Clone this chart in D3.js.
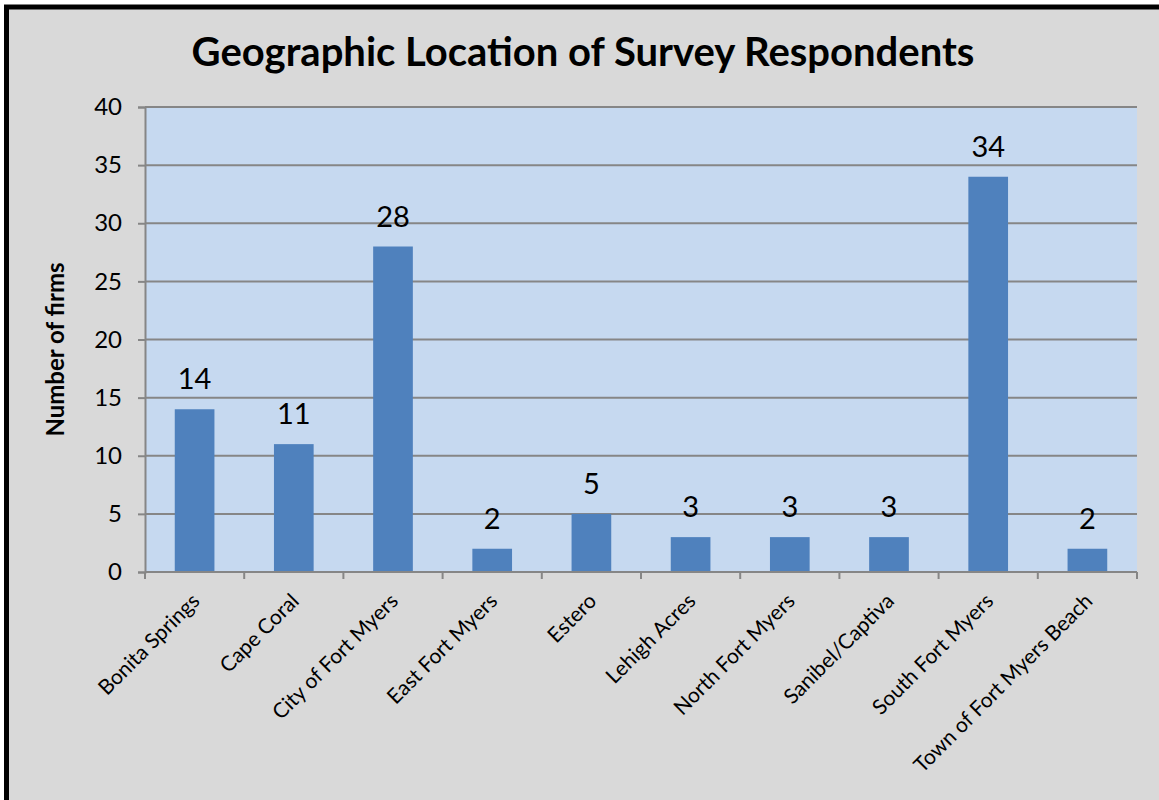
<!DOCTYPE html>
<html>
<head>
<meta charset="utf-8">
<script src="https://cdn.jsdelivr.net/npm/d3@7"></script>
<style>
  body { margin: 0; background: #fff; }
  text { font-family: Lato, "Open Sans", sans-serif; fill: #000; }
</style>
</head>
<body>
<div id="chart"></div>
<script>
//chart data
const locations = ['Bonita Springs', 'Cape Coral', 'City of Fort Myers', 'East Fort Myers', 'Estero',
    'Lehigh Acres', 'North Fort Myers', 'Sanibel/Captiva', 'South Fort Myers', 'Town of Fort Myers Beach'];
const firms = [14, 11, 28, 2, 5, 3, 3, 3, 34, 2];
const y_ticks = [0, 5, 10, 15, 20, 25, 30, 35, 40];

const width = 1159, height = 800;
const plot = {left: 145, right: 1137, top: 107, bottom: 572};

let svg = d3.select('#chart')
    .append('svg')
    .attr('width', width)
    .attr('height', height);

//outer frame, black on top and left
svg.append('rect')
    .attr('x', 6.5).attr('y', 7)
    .attr('width', width + 20).attr('height', height + 20)
    .attr('fill', '#d9d9d9')
    .attr('stroke', '#000')
    .attr('stroke-width', 5);

//scales
let x = d3.scaleBand()
    .domain(locations)
    .range([plot.left, plot.right])
    .paddingInner(0.6)
    .paddingOuter(0.3);

let y = d3.scaleLinear()
    .domain([0, 40])
    .range([plot.bottom, plot.top]);

//plot background
svg.append('rect')
    .attr('x', plot.left).attr('y', plot.top)
    .attr('width', plot.right - plot.left)
    .attr('height', plot.bottom - plot.top)
    .attr('fill', '#c6d9f0');

//gridlines
svg.append('g')
    .selectAll('line')
    .data(y_ticks.filter(d => d > 0))
    .enter().append('line')
    .attr('x1', plot.left).attr('x2', plot.right)
    .attr('y1', d => y(d)).attr('y2', d => y(d))
    .attr('stroke', '#868686')
    .attr('stroke-width', 2);

//y axis
let yAxis = svg.append('g')
    .attr('transform', `translate(${plot.left}, 0)`)
    .call(d3.axisLeft(y).tickValues(y_ticks).tickSize(7).tickPadding(16));
yAxis.attr('font-family', null).attr('font-size', null);
yAxis.select('.domain').attr('stroke', '#868686').attr('stroke-width', 2);
yAxis.selectAll('.tick line').attr('stroke', '#868686').attr('stroke-width', 2);
yAxis.selectAll('.tick text').style('font-size', '24px').attr('fill', '#000');

//bars
svg.append('g')
    .selectAll('rect')
    .data(firms)
    .enter().append('rect')
    .attr('x', (d, i) => x(locations[i]))
    .attr('y', d => y(d))
    .attr('width', x.bandwidth())
    .attr('height', d => y(0) - y(d))
    .attr('fill', '#4f81bd');

//x axis line and ticks at category boundaries
let step = x.step();
let boundaries = d3.range(locations.length + 1).map(i => plot.left + i * step);
svg.append('line')
    .attr('x1', plot.left).attr('x2', plot.right)
    .attr('y1', plot.bottom).attr('y2', plot.bottom)
    .attr('stroke', '#868686').attr('stroke-width', 2);
svg.append('g')
    .selectAll('line')
    .data(boundaries)
    .enter().append('line')
    .attr('x1', d => d).attr('x2', d => d)
    .attr('y1', plot.bottom).attr('y2', plot.bottom + 7)
    .attr('stroke', '#868686').attr('stroke-width', 2);

//category labels, rotated
svg.append('g')
    .selectAll('text')
    .data(locations)
    .enter().append('text')
    .attr('transform', d => `translate(${x(d) + x.bandwidth() / 2 - 4}, ${plot.bottom + 20}) rotate(-45)`)
    .attr('text-anchor', 'end')
    .attr('dy', '0.7em')
    .style('font-size', '21px')
    .text(d => d);

//data labels
svg.append('g')
    .selectAll('text')
    .data(firms)
    .enter().append('text')
    .attr('x', (d, i) => x(locations[i]) + x.bandwidth() / 2)
    .attr('y', d => y(d) - 20)
    .attr('text-anchor', 'middle')
    .style('font-size', '29px')
    .text(d => d);

//title
svg.append('text')
    .attr('x', 583).attr('y', 66)
    .attr('text-anchor', 'middle')
    .style('font-size', '40px')
    .style('font-weight', 'bold')
    .text('Geographic Location of Survey Respondents');

//y axis title
svg.append('text')
    .attr('transform', `translate(64, ${(plot.top + plot.bottom) / 2 + 10}) rotate(-90)`)
    .attr('text-anchor', 'middle')
    .style('font-size', '24px')
    .style('font-weight', 'bold')
    .text('Number of firms');
</script>
</body>
</html>
